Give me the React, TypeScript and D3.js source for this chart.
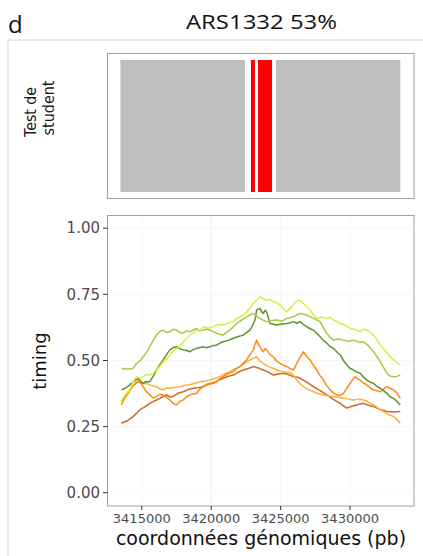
import React from "react";
import * as d3 from "d3";

// ---- data ----
const xTicks = [3415000, 3420000, 3425000, 3430000];
const yTicks = [0, 0.25, 0.5, 0.75, 1.0];

// student test tiles: [start, end, significant]
const tileStarts = [3413460, 3422860, 3423370, 3424670];
const tileEnds = [3422430, 3423150, 3424380, 3433615];
const tileSignif = [false, true, true, false];

const brightGreen: [number, number][] = [
  [3413500, 0.345], [3413820, 0.372], [3414135, 0.388], [3414380, 0.42], [3414616, 0.439], [3414860, 0.432],
  [3415097, 0.439], [3415340, 0.447], [3415578, 0.445], [3415820, 0.452], [3416059, 0.464], [3416300, 0.478],
  [3416540, 0.496], [3416780, 0.505], [3417021, 0.521], [3417260, 0.536], [3417502, 0.546], [3417740, 0.553],
  [3417983, 0.571], [3418220, 0.582], [3418464, 0.596], [3418700, 0.604], [3418945, 0.615], [3419190, 0.611],
  [3419426, 0.628], [3419790, 0.622], [3420147, 0.628], [3420500, 0.637], [3420869, 0.634], [3421230, 0.641],
  [3421590, 0.647], [3421830, 0.659], [3422071, 0.665], [3422310, 0.672], [3422552, 0.684], [3422790, 0.697],
  [3423033, 0.716], [3423270, 0.728], [3423514, 0.741], [3423750, 0.733], [3423995, 0.728], [3424230, 0.731],
  [3424476, 0.722], [3424720, 0.718], [3424957, 0.71], [3425200, 0.695], [3425438, 0.684], [3425680, 0.697],
  [3425919, 0.71], [3426100, 0.722], [3426280, 0.728], [3426460, 0.724], [3426641, 0.716], [3426880, 0.703],
  [3427122, 0.691], [3427360, 0.672], [3427603, 0.659], [3427960, 0.664], [3428324, 0.659], [3428560, 0.663],
  [3428805, 0.653], [3429050, 0.648], [3429286, 0.64], [3429650, 0.634], [3430008, 0.621], [3430370, 0.617],
  [3430729, 0.609], [3430970, 0.618], [3431210, 0.615], [3431450, 0.607], [3431691, 0.596], [3431930, 0.579],
  [3432172, 0.558], [3432530, 0.537], [3432894, 0.514], [3433250, 0.497], [3433615, 0.483],
];
const midGreen: [number, number][] = [
  [3413533, 0.47], [3413950, 0.468], [3414375, 0.47], [3414500, 0.48], [3414616, 0.489], [3414860, 0.498],
  [3415097, 0.514], [3415340, 0.53], [3415578, 0.552], [3415820, 0.575], [3416059, 0.596], [3416300, 0.61],
  [3416540, 0.615], [3416780, 0.606], [3417021, 0.609], [3417260, 0.618], [3417502, 0.615], [3417740, 0.606],
  [3417983, 0.603], [3418220, 0.612], [3418464, 0.609], [3418700, 0.616], [3418945, 0.621], [3419190, 0.612],
  [3419426, 0.615], [3419670, 0.619], [3419907, 0.615], [3420150, 0.609], [3420388, 0.603], [3420630, 0.598],
  [3420869, 0.596], [3421110, 0.606], [3421350, 0.615], [3421590, 0.627], [3421831, 0.64], [3422190, 0.653],
  [3422552, 0.665], [3422790, 0.672], [3423033, 0.678], [3423270, 0.668], [3423514, 0.659], [3423750, 0.652],
  [3423995, 0.647], [3424360, 0.651], [3424717, 0.653], [3425080, 0.649], [3425438, 0.659], [3425680, 0.662],
  [3425919, 0.665], [3426160, 0.672], [3426400, 0.678], [3426640, 0.676], [3426881, 0.672], [3427120, 0.666],
  [3427362, 0.659], [3427600, 0.653], [3427843, 0.647], [3428080, 0.624], [3428324, 0.603], [3428560, 0.588],
  [3428805, 0.577], [3429170, 0.581], [3429527, 0.577], [3429890, 0.573], [3430248, 0.577], [3430610, 0.57],
  [3430970, 0.571], [3431330, 0.556], [3431691, 0.533], [3431930, 0.516], [3432172, 0.496], [3432410, 0.474],
  [3432653, 0.452], [3432890, 0.441], [3433134, 0.439], [3433370, 0.44], [3433615, 0.445],
];
const darkGreen: [number, number][] = [
  [3413533, 0.389], [3413830, 0.396], [3414135, 0.408], [3414440, 0.421], [3414736, 0.433], [3414920, 0.42],
  [3415097, 0.414], [3415340, 0.421], [3415578, 0.42], [3415820, 0.44], [3416059, 0.464], [3416300, 0.484],
  [3416540, 0.502], [3416780, 0.522], [3417021, 0.54], [3417260, 0.549], [3417502, 0.552], [3417740, 0.545],
  [3417983, 0.54], [3418220, 0.538], [3418464, 0.533], [3418700, 0.541], [3418945, 0.546], [3419190, 0.549],
  [3419426, 0.552], [3419670, 0.548], [3419907, 0.552], [3420150, 0.557], [3420388, 0.558], [3420630, 0.566],
  [3420869, 0.571], [3421230, 0.576], [3421590, 0.584], [3421950, 0.591], [3422312, 0.596], [3422550, 0.606],
  [3422793, 0.615], [3423000, 0.635], [3423153, 0.653], [3423274, 0.691], [3423514, 0.697], [3423640, 0.684],
  [3423755, 0.678], [3423880, 0.69], [3423995, 0.684], [3424120, 0.66], [3424236, 0.64], [3424480, 0.638],
  [3424717, 0.634], [3425080, 0.638], [3425438, 0.64], [3425680, 0.643], [3425919, 0.647], [3426160, 0.641],
  [3426400, 0.647], [3426640, 0.636], [3426881, 0.628], [3427120, 0.62], [3427362, 0.615], [3427600, 0.603],
  [3427843, 0.59], [3428080, 0.576], [3428324, 0.565], [3428560, 0.553], [3428805, 0.546], [3429050, 0.532],
  [3429286, 0.521], [3429530, 0.5], [3429767, 0.483], [3430010, 0.47], [3430248, 0.464], [3430490, 0.456],
  [3430729, 0.452], [3430970, 0.437], [3431210, 0.426], [3431450, 0.418], [3431691, 0.414], [3431930, 0.402],
  [3432172, 0.395], [3432410, 0.386], [3432653, 0.376], [3432890, 0.362], [3433134, 0.357], [3433370, 0.346],
  [3433615, 0.332],
];
const brightOrange: [number, number][] = [
  [3413533, 0.332], [3413830, 0.365], [3414135, 0.389], [3414380, 0.405], [3414616, 0.414], [3414856, 0.426],
  [3414980, 0.41], [3415097, 0.401], [3415340, 0.382], [3415578, 0.37], [3415820, 0.358], [3416059, 0.364],
  [3416300, 0.372], [3416540, 0.37], [3416780, 0.36], [3417021, 0.351], [3417260, 0.338], [3417502, 0.332],
  [3417740, 0.345], [3417983, 0.351], [3418220, 0.363], [3418464, 0.37], [3418700, 0.373], [3418945, 0.376],
  [3419190, 0.392], [3419426, 0.401], [3419670, 0.41], [3419907, 0.414], [3420150, 0.416], [3420388, 0.42],
  [3420630, 0.432], [3420869, 0.439], [3421230, 0.45], [3421590, 0.458], [3421830, 0.47], [3422071, 0.477],
  [3422310, 0.49], [3422552, 0.502], [3422790, 0.522], [3423033, 0.54], [3423150, 0.56], [3423274, 0.577],
  [3423400, 0.56], [3423514, 0.552], [3423640, 0.54], [3423755, 0.533], [3423880, 0.545], [3423995, 0.54],
  [3424240, 0.522], [3424476, 0.514], [3424720, 0.497], [3424957, 0.489], [3425200, 0.482], [3425438, 0.477],
  [3425680, 0.47], [3425919, 0.464], [3426040, 0.476], [3426160, 0.489], [3426400, 0.512], [3426641, 0.533],
  [3426880, 0.515], [3427122, 0.502], [3427360, 0.482], [3427603, 0.464], [3427840, 0.443], [3428084, 0.426],
  [3428320, 0.405], [3428565, 0.389], [3428800, 0.378], [3429046, 0.37], [3429290, 0.368], [3429527, 0.376],
  [3429770, 0.396], [3430008, 0.414], [3430190, 0.428], [3430368, 0.439], [3430550, 0.43], [3430729, 0.426],
  [3430970, 0.415], [3431210, 0.408], [3431450, 0.396], [3431691, 0.389], [3431930, 0.386], [3432172, 0.382],
  [3432410, 0.392], [3432653, 0.401], [3432890, 0.395], [3433134, 0.389], [3433370, 0.378], [3433615, 0.357],
];
const lightOrange: [number, number][] = [
  [3413533, 0.345], [3413830, 0.362], [3414135, 0.382], [3414380, 0.405], [3414616, 0.42], [3414980, 0.412],
  [3415337, 0.414], [3415700, 0.405], [3416059, 0.401], [3416300, 0.393], [3416540, 0.389], [3416780, 0.396],
  [3417021, 0.395], [3417380, 0.399], [3417742, 0.401], [3418100, 0.406], [3418464, 0.408], [3418820, 0.414],
  [3419185, 0.42], [3419550, 0.422], [3419907, 0.426], [3420270, 0.432], [3420628, 0.439], [3420990, 0.45],
  [3421350, 0.458], [3421710, 0.468], [3422071, 0.477], [3422430, 0.49], [3422793, 0.502], [3423030, 0.508],
  [3423274, 0.514], [3423510, 0.498], [3423755, 0.489], [3424110, 0.478], [3424476, 0.47], [3424840, 0.462],
  [3425198, 0.458], [3425500, 0.455], [3425799, 0.452], [3425980, 0.44], [3426160, 0.426], [3426400, 0.412],
  [3426641, 0.401], [3427000, 0.39], [3427362, 0.382], [3427720, 0.374], [3428084, 0.37], [3428440, 0.366],
  [3428805, 0.364], [3429170, 0.361], [3429527, 0.357], [3429890, 0.354], [3430248, 0.351], [3430610, 0.355],
  [3430970, 0.351], [3431330, 0.343], [3431691, 0.332], [3432050, 0.319], [3432413, 0.307], [3432770, 0.296],
  [3433134, 0.288], [3433370, 0.277], [3433615, 0.263],
];
const brownOrange: [number, number][] = [
  [3413533, 0.263], [3413950, 0.272], [3414375, 0.288], [3414616, 0.3], [3414856, 0.313], [3415220, 0.325],
  [3415578, 0.338], [3415940, 0.348], [3416299, 0.357], [3416540, 0.364], [3416780, 0.37], [3417020, 0.362],
  [3417261, 0.364], [3417620, 0.376], [3417983, 0.382], [3418340, 0.39], [3418704, 0.395], [3419060, 0.397],
  [3419426, 0.401], [3419790, 0.41], [3420147, 0.414], [3420510, 0.425], [3420869, 0.433], [3421230, 0.44],
  [3421590, 0.445], [3421950, 0.456], [3422312, 0.464], [3422670, 0.47], [3423033, 0.477], [3423390, 0.472],
  [3423755, 0.464], [3424110, 0.456], [3424476, 0.445], [3424840, 0.449], [3425198, 0.452], [3425560, 0.447],
  [3425919, 0.439], [3426160, 0.438], [3426400, 0.433], [3426880, 0.418], [3427362, 0.401], [3427840, 0.386],
  [3428324, 0.37], [3428800, 0.353], [3429286, 0.338], [3429527, 0.328], [3429767, 0.32], [3430130, 0.327],
  [3430489, 0.332], [3430730, 0.336], [3430970, 0.338], [3431330, 0.331], [3431691, 0.326], [3432170, 0.315],
  [3432653, 0.307], [3433134, 0.305], [3433615, 0.307],
];

const seriesData = [brownOrange, lightOrange, brightOrange, darkGreen, midGreen, brightGreen];
const seriesColors = ["#c86a24", "#ffb03c", "#ff8a12", "#64902e", "#a8c848", "#d2f040"];

export default function App() {
  const W = 423, H = 556;
  const x = d3.scaleLinear().domain([3412495, 3434605]).range([107, 414]);
  const y = d3.scaleLinear().domain([-0.05, 1.05]).range([506, 215]);
  const line = d3.line<[number, number]>().x((d) => x(d[0])).y((d) => y(d[1]));
  const tick = "DejaVu Sans, sans-serif";
  return (
    <svg width={W} height={H} style={{ position: "absolute", left: 0, top: 0, background: "#fff" }}>
      {/* outer frame */}
      <line x1={8} y1={40} x2={W} y2={40} stroke="#d4d4d4" strokeWidth={1} />
      <line x1={8} y1={40} x2={8} y2={H} stroke="#d4d4d4" strokeWidth={1} />
      <text x={8} y={33} fontFamily="Open Sans, sans-serif" fontSize={24} fill="#111">d</text>
      <text x={186} y={29} fontFamily="Open Sans, sans-serif" fontSize={20} fill="#111"
        textLength={151} lengthAdjust="spacingAndGlyphs">ARS1332 53%</text>

      {/* top panel */}
      <rect x={107.5} y={53.5} width={306.5} height={145} fill="#fff" stroke="#a0a0a0" strokeWidth={1} />
      {tileStarts.map((s, i) => (
        <rect key={i} x={x(s)} y={60} width={x(tileEnds[i]) - x(s)} height={132}
          fill={tileSignif[i] ? "#ff0000" : "#bebebe"} />
      ))}
      <text transform="translate(36,112) rotate(-90)" textAnchor="middle" fontFamily={tick} fontSize={16}
        fill="#1a1a1a" textLength={50} lengthAdjust="spacingAndGlyphs">Test de</text>
      <text transform="translate(54,108) rotate(-90)" textAnchor="middle" fontFamily={tick} fontSize={16}
        fill="#1a1a1a" textLength={55} lengthAdjust="spacingAndGlyphs">student</text>

      {/* bottom panel */}
      <rect x={107.5} y={215.5} width={306.5} height={290.5} fill="#fff" />
      {yTicks.map((t) => (
        <line key={"gy" + t} x1={107.5} x2={414} y1={y(t)} y2={y(t)} stroke="#f7f7f7" strokeWidth={1} />
      ))}
      {xTicks.map((t) => (
        <line key={"gx" + t} x1={x(t)} x2={x(t)} y1={215.5} y2={506} stroke={t === 3420000 ? "#efefef" : "#f7f7f7"} strokeWidth={1} />
      ))}
      {seriesData.map((s, i) => (
        <path key={i} d={line(s) || ""} fill="none" stroke={seriesColors[i]} strokeWidth={1.5} strokeLinejoin="round" />
      ))}
      <rect x={107.5} y={215.5} width={306.5} height={290.5} fill="none" stroke="#a0a0a0" strokeWidth={1} />

      {yTicks.map((t) => (
        <g key={"ty" + t}>
          <line x1={103} x2={107.5} y1={y(t)} y2={y(t)} stroke="#333" strokeWidth={1} />
          <text x={100} y={y(t)} dy="0.35em" textAnchor="end" fontFamily={tick} fontSize={15} fill="#4d4d4d">{t.toFixed(2)}</text>
        </g>
      ))}
      {xTicks.map((t) => (
        <g key={"tx" + t}>
          <line x1={x(t)} x2={x(t)} y1={506} y2={510} stroke="#333" strokeWidth={1} />
          <text x={x(t)} y={523} textAnchor="middle" fontFamily={tick} fontSize={13} fill="#4d4d4d">{t}</text>
        </g>
      ))}
      <text transform="translate(46,361) rotate(-90)" textAnchor="middle" fontFamily={tick} fontSize={18} fill="#111">timing</text>
      <text x={261} y={545} textAnchor="middle" fontFamily={tick} fontSize={19} fill="#111">coordonnées génomiques (pb)</text>
    </svg>
  );
}
